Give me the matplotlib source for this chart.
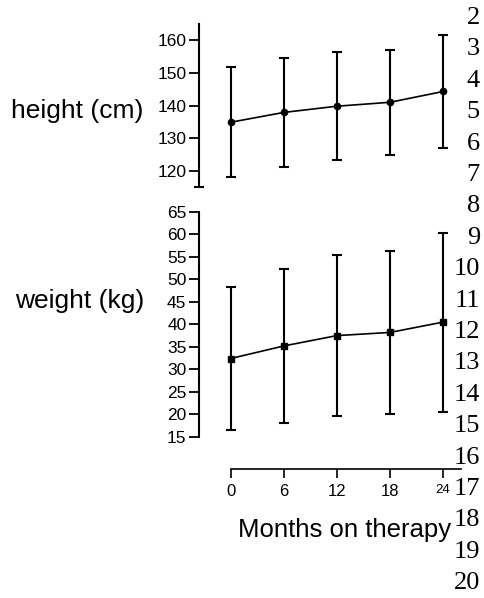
import matplotlib
matplotlib.use("Agg")
import matplotlib.pyplot as plt
from matplotlib.ticker import FixedLocator, NullFormatter

# ---- data ----
months = [0, 6, 12, 18, 24]
height_mean = [134.9, 137.9, 139.8, 141.0, 144.3]
height_sd = [16.9, 16.7, 16.5, 16.0, 17.3]
weight_mean = [32.4, 35.2, 37.5, 38.2, 40.5]
weight_sd = [15.8, 17.1, 18.0, 18.2, 19.9]
height_ticks = [120, 130, 140, 150, 160]
weight_ticks = [15, 20, 25, 30, 35, 40, 45, 50, 55, 60, 65]
month_ticks = [0, 6, 12, 18, 24]
line_numbers = [str(n) for n in range(2, 21)]

SANS = ["Liberation Sans", "DejaVu Sans"]
SERIF = ["Liberation Serif", "DejaVu Serif"]
plt.rcParams["font.family"] = SANS

W, H = 485, 598
fig = plt.figure(figsize=(W / 100, H / 100), dpi=100)

def fx(px):
    return px / W

def fy(py):
    return 1 - py / H

left_px, right_px = 199, 460.8
xlim = (-3.6, 26)

# height axes
ax_h = fig.add_axes([fx(left_px), fy(187.3), fx(right_px - left_px), (187.3 - 23.8) / H])
# weight axes
ax_w = fig.add_axes([fx(left_px), fy(436.7), fx(right_px - left_px), (436.7 - 212) / H])

err_kw = dict(color="black", ecolor="black", elinewidth=1.5, capsize=3.3, capthick=1.5,
              linewidth=1.2, clip_on=False)
ax_h.errorbar(months, height_mean, yerr=height_sd, marker="o", markersize=4.5, **err_kw)
ax_w.errorbar(months, weight_mean, yerr=weight_sd, marker="s", markersize=4.3, **err_kw)

for ax in (ax_h, ax_w):
    ax.set_xlim(*xlim)
    ax.spines["top"].set_visible(False)
    ax.spines["right"].set_visible(False)
    ax.spines["left"].set_linewidth(1.5)
    ax.patch.set_visible(False)

ax_h.set_ylim(115, 165)
ax_h.yaxis.set_major_locator(FixedLocator(height_ticks))
ax_h.yaxis.set_minor_locator(FixedLocator([115]))
ax_h.yaxis.set_minor_formatter(NullFormatter())
ax_h.tick_params(axis="y", which="major", direction="out", length=7, width=1.3,
                 labelsize=12.5, pad=2)
ax_h.tick_params(axis="y", which="minor", direction="inout", length=7, width=1.5)
ax_h.spines["bottom"].set_visible(False)
ax_h.tick_params(axis="x", bottom=False, labelbottom=False)

ax_w.set_ylim(15, 65)
ax_w.yaxis.set_major_locator(FixedLocator(weight_ticks))
ax_w.yaxis.set_minor_locator(FixedLocator(weight_ticks[-1:]))
ax_w.yaxis.set_minor_formatter(NullFormatter())
ax_w.tick_params(axis="y", which="major", direction="out", length=7, width=1.3,
                 labelsize=12.5, pad=2)
ax_w.tick_params(axis="y", which="minor", direction="in", length=4.3, width=1.5)

ax_w.spines["bottom"].set_position(("outward", 32.6 * 72 / 100))
ax_w.spines["bottom"].set_bounds(0, xlim[1])
ax_w.spines["bottom"].set_linewidth(1.2)
ax_w.set_xticks(month_ticks)
ax_w.set_xticklabels([str(m) for m in month_ticks])
ax_w.tick_params(axis="x", direction="out", length=6.5, width=1.2, labelsize=12, pad=4)
ax_w.get_xticklabels()[-1].set_fontsize(9.5)

# axis titles
fig.text(fx(143), fy(118), "height (cm)", ha="right", va="baseline", fontsize=19)
fig.text(fx(144), fy(308), "weight (kg)", ha="right", va="baseline", fontsize=19)
fig.text(fx(344.4), fy(537), "Months on therapy", ha="center", va="baseline", fontsize=18.5)

# manuscript line numbers
for i, t in enumerate(line_numbers):
    fig.text(fx(480), fy(18 + i * 31.4), t, ha="right", va="center", fontsize=19,
             family=SERIF)

fig.savefig("out.png", dpi=100)
